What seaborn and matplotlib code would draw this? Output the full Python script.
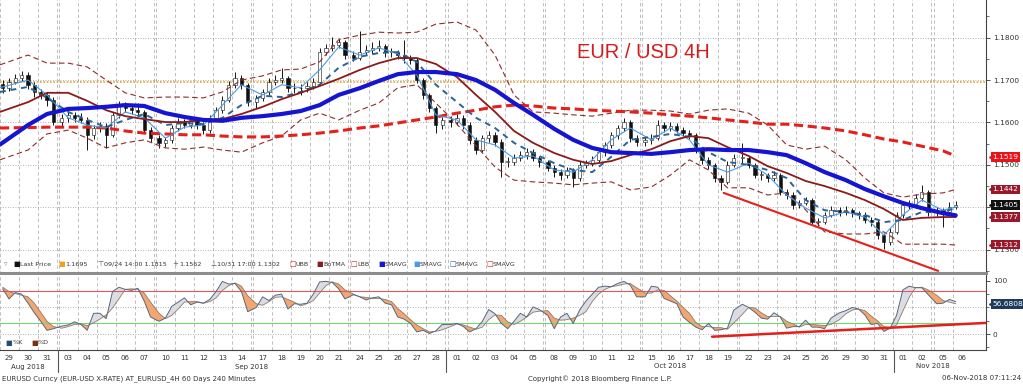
import numpy as np
import pandas as pd
import matplotlib
matplotlib.use("Agg")
import matplotlib.pyplot as plt
import matplotlib.transforms as mtransforms
from matplotlib.lines import Line2D
import seaborn as sns

# ---------------- data ----------------
trade_days = pd.bdate_range("2018-08-29", "2018-11-06")

# 3 bars per trading day (last day: 1 bar)
open_first = 1.1690
close = [1.1681, 1.1696, 1.1705, 1.1712, 1.1688, 1.1672, 1.1665, 1.1653, 1.1601,
         1.1611, 1.1618, 1.1611, 1.1606, 1.1570, 1.1587, 1.1592, 1.1570, 1.1618,
         1.1641, 1.1634, 1.1629, 1.1625, 1.1582, 1.1563, 1.1552, 1.1559, 1.1587,
         1.1601, 1.1594, 1.1606, 1.1594, 1.1582, 1.1611, 1.1629, 1.1653, 1.1688,
         1.1705, 1.1688, 1.1648, 1.1658, 1.1672, 1.1696, 1.1700, 1.1705, 1.1681,
         1.1681, 1.1681, 1.1686, 1.1696, 1.1766, 1.1776, 1.1783, 1.1790, 1.1759,
         1.1752, 1.1766, 1.1771, 1.1776, 1.1780, 1.1766, 1.1766, 1.1759, 1.1752,
         1.1747, 1.1700, 1.1665, 1.1634, 1.1594, 1.1606, 1.1601, 1.1611, 1.1594,
         1.1559, 1.1535, 1.1563, 1.1570, 1.1554, 1.1507, 1.1507, 1.1516, 1.1523,
         1.1530, 1.1516, 1.1507, 1.1493, 1.1483, 1.1476, 1.1488, 1.1469, 1.1500,
         1.1504, 1.1511, 1.1530, 1.1547, 1.1570, 1.1587, 1.1601, 1.1563, 1.1554,
         1.1559, 1.1563, 1.1594, 1.1587, 1.1592, 1.1582, 1.1575, 1.1570, 1.1535,
         1.1511, 1.1500, 1.1469, 1.1460, 1.1500, 1.1516, 1.1516, 1.1500, 1.1476,
         1.1476, 1.1469, 1.1476, 1.1436, 1.1429, 1.1405, 1.1410, 1.1417, 1.1365,
         1.1365, 1.1382, 1.1393, 1.1389, 1.1393, 1.1386, 1.1382, 1.1370, 1.1365,
         1.1334, 1.1318, 1.1342, 1.1382, 1.1405, 1.1405, 1.1422, 1.1436, 1.1389,
         1.1393, 1.1389, 1.1400, 1.1405]
high = [1.1700, 1.1705, 1.1715, 1.1722, 1.1718, 1.1695, 1.1680, 1.1672, 1.1660,
        1.1620, 1.1628, 1.1625, 1.1622, 1.1612, 1.1595, 1.1600, 1.1598, 1.1625,
        1.1650, 1.1648, 1.1642, 1.1645, 1.1630, 1.1590, 1.1570, 1.1566, 1.1595,
        1.1610, 1.1608, 1.1615, 1.1612, 1.1600, 1.1618, 1.1636, 1.1662, 1.1698,
        1.1719, 1.1712, 1.1692, 1.1665, 1.1680, 1.1705, 1.1712, 1.1728, 1.1710,
        1.1692, 1.1690, 1.1695, 1.1705, 1.1775, 1.1785, 1.1802, 1.1800, 1.1795,
        1.1768, 1.1815, 1.1782, 1.1790, 1.1795, 1.1785, 1.1775, 1.1772, 1.1795,
        1.1760, 1.1752, 1.1705, 1.1670, 1.1640, 1.1612, 1.1615, 1.1620, 1.1618,
        1.1600, 1.1565, 1.1570, 1.1580, 1.1578, 1.1560, 1.1518, 1.1525, 1.1532,
        1.1540, 1.1538, 1.1522, 1.1512, 1.1500, 1.1490, 1.1495, 1.1492, 1.1508,
        1.1512, 1.1520, 1.1538, 1.1555, 1.1578, 1.1595, 1.1610, 1.1605, 1.1570,
        1.1568, 1.1572, 1.1605, 1.1600, 1.1600, 1.1598, 1.1590, 1.1582, 1.1575,
        1.1540, 1.1518, 1.1505, 1.1475, 1.1508, 1.1525, 1.1552, 1.1522, 1.1505,
        1.1485, 1.1482, 1.1485, 1.1480, 1.1442, 1.1435, 1.1418, 1.1425, 1.1422,
        1.1375, 1.1390, 1.1402, 1.1400, 1.1402, 1.1398, 1.1392, 1.1388, 1.1378,
        1.1370, 1.1340, 1.1350, 1.1390, 1.1415, 1.1418, 1.1432, 1.1452, 1.1440,
        1.1400, 1.1398, 1.1412, 1.1415]
low = [1.1670, 1.1675, 1.1690, 1.1698, 1.1680, 1.1660, 1.1655, 1.1640, 1.1595,
       1.1592, 1.1600, 1.1600, 1.1598, 1.1535, 1.1560, 1.1578, 1.1540, 1.1565,
       1.1610, 1.1625, 1.1620, 1.1615, 1.1575, 1.1555, 1.1540, 1.1542, 1.1552,
       1.1580, 1.1586, 1.1588, 1.1585, 1.1572, 1.1576, 1.1605, 1.1622, 1.1648,
       1.1682, 1.1680, 1.1640, 1.1635, 1.1650, 1.1665, 1.1688, 1.1692, 1.1672,
       1.1670, 1.1665, 1.1672, 1.1680, 1.1690, 1.1758, 1.1768, 1.1775, 1.1750,
       1.1745, 1.1748, 1.1758, 1.1762, 1.1768, 1.1755, 1.1755, 1.1750, 1.1740,
       1.1738, 1.1692, 1.1655, 1.1625, 1.1575, 1.1585, 1.1590, 1.1595, 1.1585,
       1.1550, 1.1525, 1.1530, 1.1555, 1.1545, 1.1471, 1.1495, 1.1500, 1.1508,
       1.1515, 1.1508, 1.1495, 1.1485, 1.1472, 1.1465, 1.1470, 1.1448, 1.1462,
       1.1492, 1.1498, 1.1505, 1.1522, 1.1540, 1.1562, 1.1580, 1.1555, 1.1545,
       1.1545, 1.1550, 1.1558, 1.1578, 1.1580, 1.1575, 1.1568, 1.1560, 1.1528,
       1.1502, 1.1490, 1.1460, 1.1441, 1.1455, 1.1495, 1.1505, 1.1492, 1.1468,
       1.1465, 1.1460, 1.1462, 1.1428, 1.1420, 1.1396, 1.1398, 1.1405, 1.1358,
       1.1355, 1.1360, 1.1378, 1.1380, 1.1382, 1.1378, 1.1372, 1.1362, 1.1355,
       1.1325, 1.1302, 1.1310, 1.1338, 1.1375, 1.1395, 1.1398, 1.1415, 1.1380,
       1.1380, 1.1353, 1.1385, 1.1395]

# studies, one value per trading day
sma_slow = [1.1548, 1.1594, 1.1620, 1.1632, 1.1634, 1.1637, 1.1641, 1.1639, 1.1622, 1.1613,
            1.1606, 1.1604, 1.1611, 1.1615, 1.1620, 1.1627, 1.1641, 1.1665, 1.1681, 1.1698,
            1.1714, 1.1719, 1.1719, 1.1714, 1.1700, 1.1677, 1.1646, 1.1618, 1.1585, 1.1559,
            1.1540, 1.1530, 1.1528, 1.1526, 1.1530, 1.1535, 1.1537, 1.1535, 1.1535, 1.1530,
            1.1523, 1.1504, 1.1483, 1.1464, 1.1443, 1.1426, 1.1410, 1.1398, 1.1386, 1.1381]
sma_long = [1.1587, 1.1588, 1.1589, 1.1589, 1.1589, 1.1587, 1.1580, 1.1575, 1.1573, 1.1571,
            1.1571, 1.1568, 1.1566, 1.1566, 1.1568, 1.1571, 1.1575, 1.1580, 1.1587, 1.1592,
            1.1599, 1.1606, 1.1613, 1.1622, 1.1629, 1.1637, 1.1641, 1.1639, 1.1634, 1.1632,
            1.1629, 1.1627, 1.1625, 1.1622, 1.1618, 1.1615, 1.1611, 1.1606, 1.1601, 1.1596,
            1.1596, 1.1592, 1.1587, 1.1580, 1.1571, 1.1561, 1.1554, 1.1544, 1.1533, 1.1521]
bol_mid = [1.1625, 1.1648, 1.1670, 1.1670, 1.1651, 1.1629, 1.1615, 1.1608, 1.1601, 1.1601,
           1.1606, 1.1608, 1.1620, 1.1637, 1.1655, 1.1670, 1.1686, 1.1703, 1.1724, 1.1740,
           1.1752, 1.1752, 1.1738, 1.1707, 1.1665, 1.1625, 1.1580, 1.1552, 1.1528, 1.1512,
           1.1502, 1.1509, 1.1523, 1.1537, 1.1556, 1.1568, 1.1563, 1.1542, 1.1521, 1.1497,
           1.1481, 1.1462, 1.1450, 1.1434, 1.1417, 1.1396, 1.1370, 1.1375, 1.1377, 1.1377]
bol_up = [1.1736, 1.1759, 1.1740, 1.1740, 1.1731, 1.1700, 1.1670, 1.1658, 1.1660, 1.1660,
          1.1658, 1.1672, 1.1700, 1.1710, 1.1724, 1.1726, 1.1743, 1.1795, 1.1806, 1.1813,
          1.1811, 1.1813, 1.1832, 1.1837, 1.1818, 1.1759, 1.1665, 1.1625, 1.1622, 1.1618,
          1.1615, 1.1622, 1.1629, 1.1629, 1.1627, 1.1620, 1.1629, 1.1632, 1.1622, 1.1594,
          1.1547, 1.1537, 1.1544, 1.1512, 1.1469, 1.1434, 1.1424, 1.1431, 1.1434, 1.1442]
bol_low = [1.1512, 1.1535, 1.1573, 1.1582, 1.1563, 1.1540, 1.1552, 1.1559, 1.1540, 1.1537,
           1.1542, 1.1535, 1.1530, 1.1552, 1.1568, 1.1606, 1.1622, 1.1606, 1.1629, 1.1646,
           1.1682, 1.1689, 1.1646, 1.1596, 1.1545, 1.1495, 1.1464, 1.1460, 1.1457, 1.1453,
           1.1457, 1.1460, 1.1441, 1.1448, 1.1476, 1.1512, 1.1488, 1.1446, 1.1446, 1.1429,
           1.1434, 1.1394, 1.1342, 1.1337, 1.1337, 1.1342, 1.1313, 1.1313, 1.1313, 1.1311]
sma_mid = [1.1672, 1.1684, 1.1658, 1.1625, 1.1606, 1.1589, 1.1606, 1.1620, 1.1594, 1.1599,
           1.1596, 1.1611, 1.1641, 1.1663, 1.1660, 1.1672, 1.1689, 1.1729, 1.1755, 1.1764,
           1.1766, 1.1743, 1.1689, 1.1648, 1.1611, 1.1587, 1.1552, 1.1528, 1.1504, 1.1488,
           1.1483, 1.1519, 1.1559, 1.1566, 1.1573, 1.1566, 1.1530, 1.1507, 1.1500, 1.1488,
           1.1469, 1.1417, 1.1393, 1.1389, 1.1382, 1.1365, 1.1370, 1.1389, 1.1389, 1.1398]
sma_fast = [1.1682, 1.1700, 1.1665, 1.1611, 1.1594, 1.1587, 1.1625, 1.1611, 1.1563, 1.1589,
            1.1594, 1.1641, 1.1689, 1.1665, 1.1689, 1.1682, 1.1724, 1.1778, 1.1759, 1.1776,
            1.1762, 1.1712, 1.1618, 1.1606, 1.1559, 1.1547, 1.1516, 1.1521, 1.1488, 1.1483,
            1.1512, 1.1559, 1.1587, 1.1559, 1.1587, 1.1559, 1.1500, 1.1483, 1.1504, 1.1476,
            1.1429, 1.1398, 1.1375, 1.1389, 1.1377, 1.1334, 1.1382, 1.1417, 1.1393, 1.1401]

# stochastic, one value per bar
stoch_k = [85, 66, 78, 75, 58, 40, 24, 7, 10, 15, 17, 23, 18, 7, 39, 39, 29, 80,
           88, 84, 82, 86, 62, 32, 24, 30, 52, 60, 68, 55, 60, 58, 65, 80, 99, 94,
           95, 80, 42, 50, 70, 63, 73, 75, 47, 57, 56, 58, 75, 98, 99, 97, 85, 66,
           74, 70, 64, 68, 70, 58, 55, 32, 28, 20, 4, 7, 1, 6, 18, 18, 20, 14,
           4, 10, 24, 46, 38, 20, 10, 24, 39, 32, 51, 46, 35, 10, 32, 39, 20, 45,
           62, 75, 88, 90, 89, 95, 99, 92, 70, 70, 90, 88, 67, 62, 57, 32, 22, 13,
           8, 20, 7, 8, 11, 45, 56, 50, 41, 30, 28, 40, 32, 11, 14, 14, 26, 13,
           13, 10, 30, 40, 44, 50, 47, 36, 18, 20, 5, 11, 35, 83, 90, 87, 87, 74,
           57, 58, 65, 61]
stoch_d = [88, 80, 76, 73, 70, 58, 41, 24, 14, 11, 14, 18, 19, 16, 21, 28, 36, 49,
           66, 84, 85, 84, 77, 60, 39, 29, 35, 47, 60, 61, 61, 58, 61, 68, 82, 91,
           96, 90, 72, 57, 54, 61, 69, 70, 65, 60, 53, 57, 63, 77, 91, 98, 94, 83,
           75, 70, 69, 67, 67, 65, 61, 48, 38, 27, 17, 10, 4, 5, 8, 14, 19, 17,
           13, 9, 13, 27, 36, 35, 23, 18, 24, 32, 41, 43, 44, 30, 26, 27, 30, 35,
           42, 61, 75, 84, 89, 91, 94, 95, 87, 77, 77, 83, 82, 72, 62, 50, 39, 22,
           14, 14, 12, 12, 9, 21, 37, 50, 49, 40, 33, 33, 33, 24, 19, 13, 18, 18,
           17, 16, 18, 27, 38, 45, 47, 44, 34, 25, 14, 12, 17, 43, 69, 87, 88, 83,
           73, 63, 60, 57]

level_1695 = 1.1695
tag_values = [1.1519, 1.1442, 1.1405, 1.1377, 1.1312]
stoch_last = 56.6808

# hand-drawn trend lines: trading-day index, shift within the day, value
trend_day = [37, 48]
trend_shift = [-0.2, -0.26]
trend_val = [1.1434, 1.1250]
stoch_trend_day = [36, 49]
stoch_trend_shift = [0.19, 1.3]
stoch_trend_val = [-5, 21]

# ---------------- layout helpers ----------------
gap = 0.116   # weekend squeeze
pos, w = [], 0
for k, d in enumerate(trade_days):
    if k and (d - trade_days[k - 1]).days > 1:
        w += 1
    pos.append(k + gap * w)
pos = np.array(pos)
bar_x = np.array([p + (j - 1) / 3 for p in pos for j in range(3)])[:len(close)]
x_left, x_right = -0.474, 51.42
ma_x = pos.copy()
ma_x[0] = x_left
ma_x[-1] = bar_x[-1]

sns.set_style("white")
plt.rcParams["font.family"] = ["DejaVu Sans"]

W, H = 1023, 384
fig = plt.figure(figsize=(W / 100, H / 100), dpi=100)
ax = fig.add_axes([0, 1 - 273 / H, 986 / W, 273 / H])
ax2 = fig.add_axes([0, 1 - 350 / H, 986 / W, 75 / H])

# grid
bounds = np.unique(np.round(np.r_[pos - 0.5, pos + 0.5], 4))
bounds = bounds[bounds < bar_x[-1] + 0.5]
for a in (ax, ax2):
    a.vlines(bounds, -1e3, 1e3, color="#b4b4b4", lw=0.6, linestyle=(0, (4, 3)), zorder=1)
for v in [1.13, 1.14, 1.15, 1.16, 1.17, 1.18]:
    ax.axhline(v, color="#9a9a9a", lw=0.6, linestyle=(0, (1, 2)), zorder=1)
ax.axhline(level_1695, color="#e3a52e", lw=1.2, linestyle=(0, (1, 1)), zorder=2)

# candles
c = np.array(close)
o = np.r_[open_first, c[:-1]]
up = c >= o
ax.vlines(bar_x, low, high, color="#151515", lw=0.7, zorder=3)
ax.bar(bar_x, np.maximum(np.abs(c - o), 0.00015), bottom=np.minimum(o, c), width=0.17,
       color=np.where(up, "white", "#111111"), edgecolor="#111111", linewidth=0.4, zorder=3)

# studies
sns.lineplot(x=ma_x, y=bol_up, ax=ax, color="#8e2b2b", lw=0.8, linestyle=(0, (5, 3)), zorder=4)
sns.lineplot(x=ma_x, y=bol_low, ax=ax, color="#8e2b2b", lw=0.8, linestyle=(0, (5, 3)), zorder=4)
sns.lineplot(x=ma_x, y=sma_long, ax=ax, color="#e3201b", lw=2.2, linestyle=(0, (3, 1.5)), zorder=5)
sns.lineplot(x=ma_x, y=sma_fast, ax=ax, color="#4a9be3", lw=0.8, zorder=5)
sns.lineplot(x=ma_x, y=sma_mid, ax=ax, color="#2a6496", lw=1.4, linestyle=(0, (3, 2.5)), zorder=5)
sns.lineplot(x=ma_x, y=bol_mid, ax=ax, color="#8b1a1a", lw=1.3, zorder=6)
sns.lineplot(x=ma_x, y=sma_slow, ax=ax, color="#1414d2", lw=3.0, zorder=7)
tx = [pos[d] + s for d, s in zip(trend_day, trend_shift)]
ax.plot(tx, trend_val, color="#e3201b", lw=1.5, zorder=8)

ax.set_xlim(x_left, x_right)
ax.set_ylim(1.1245, 1.18889)
ax.set_xticks([])
ax.yaxis.tick_right()
ax.set_yticks([1.13, 1.14, 1.15, 1.16, 1.17, 1.18])
# 1.1400 sits under the last-price tag, as in the reference
ax.set_yticklabels(["1.1300", "", "1.1500", "1.1600", "1.1700", "1.1800"])
ax.set_yticks(np.arange(1.125, 1.19, 0.005), minor=True)
ax.tick_params(axis="y", which="major", right=True, length=3, width=0.6, pad=2,
               labelsize=5.3, colors="#333333")
ax.tick_params(axis="y", which="minor", right=True, length=2, width=0.5, colors="#333333")
for s in ["left", "top"]:
    ax.spines[s].set_visible(False)
ax.spines["right"].set_color("#444444")
ax.spines["right"].set_linewidth(0.8)
ax.spines["bottom"].set_color("#8c8c8c")
ax.spines["bottom"].set_linewidth(2.2)
ax.set_xlabel("")
ax.set_ylabel("")

fig.text(643 / W, 1 - 52 / H, "EUR / USD 4H", ha="center", va="center", fontsize=14.5,
         family=["Liberation Sans"], color="#d41c1c")

# price tags on the right
tag_colors = ["#e8131b", "#98182c", "#111111", "#98182c", "#98182c"]
ytr = ax.get_yaxis_transform()
for v, col in zip(tag_values, tag_colors):
    ax.plot([1.006], [v], marker="<", ms=4.2, color=col, transform=ytr, clip_on=False, zorder=10)
    ax.annotate(f"{v:.4f}", xy=(1.0, v), xycoords=ytr, xytext=(4.6, 0), textcoords="offset points",
                va="center", ha="left", fontsize=5.4, color="white", zorder=10,
                annotation_clip=False,
                bbox=dict(boxstyle="square,pad=0.25", fc=col, ec="none"))

# legend strip
leg = [(4, "▿", "#888888", ""), (13, "■", "#111111", "Last Price"), (58, "■", "#f0a020", "1.1695"),
       (97, "⊤", "#555555", "09/24 14:00 1.1815"), (172, "+", "#555555", "1.1562"),
       (210, "⊥", "#555555", "10/31 17:00 1.1302"), (289, "□", "#d03030", "UBB"),
       (316, "■", "#8b1a1a", "BoTMA"), (350, "□", "#d03030", "LBB"), (378, "■", "#1414d2", "SMAVG"),
       (413, "■", "#4a9be3", "SMAVG"), (449, "□", "#2a6496", "SMAVG"), (486, "□", "#e3201b", "SMAVG")]
for px, sym, col, lab in leg:
    fig.text(px / W, 1 - 264 / H, sym, color=col, fontsize=5, va="center", ha="left")
    if lab:
        fig.text((px + 7) / W, 1 - 264 / H, lab, color="#333333", fontsize=4.6, va="center", ha="left")

# stochastic panel
kk = np.array(stoch_k, dtype=float)
dd = np.array(stoch_d, dtype=float)
ax2.fill_between(bar_x, kk, dd, where=kk >= dd, interpolate=True, color="#dcdce4", lw=0, zorder=2)
ax2.fill_between(bar_x, kk, dd, where=kk < dd, interpolate=True, color="#f4a672", lw=0, zorder=2)
sns.lineplot(x=bar_x, y=dd, ax=ax2, color="#8c7a6a", lw=0.6, zorder=3)
sns.lineplot(x=bar_x, y=kk, ax=ax2, color="#56687c", lw=0.7, zorder=3)
ax2.axhline(80, color="#e05a5a", lw=0.8, zorder=2)
ax2.axhline(20, color="#74d474", lw=0.8, zorder=2)
for v in [0, 50]:
    ax2.axhline(v, color="#9a9a9a", lw=0.6, linestyle=(0, (1, 2)), zorder=1)
sx = [pos[d] + s for d, s in zip(stoch_trend_day, stoch_trend_shift)]
ax2.plot(sx, stoch_trend_val, color="#e3201b", lw=1.8, zorder=4)

ax2.set_xlim(x_left, x_right)
ax2.set_ylim(-30, 111)
ax2.yaxis.tick_right()
ax2.set_yticks([0, 100])
ax2.set_yticklabels(["0", "100"])
ax2.set_yticks([-25, 25, 50, 75], minor=True)
ax2.tick_params(axis="y", which="major", right=True, length=3, width=0.6, pad=2,
                labelsize=5.3, colors="#333333")
ax2.tick_params(axis="y", which="minor", right=True, length=2, width=0.5, colors="#333333")
ax2.set_xticks(pos)
ax2.set_xticklabels(trade_days.strftime("%d"))
ax2.tick_params(axis="x", length=0, pad=3.5, labelsize=5, colors="#333333")
ax2.spines["left"].set_visible(False)
ax2.spines["top"].set_visible(False)
for s in ["right", "bottom"]:
    ax2.spines[s].set_color("#444444")
    ax2.spines[s].set_linewidth(0.8)
ax2.set_xlabel("")
ax2.set_ylabel("")

ytr2 = ax2.get_yaxis_transform()
ax2.plot([1.006], [stoch_last], marker="<", ms=4.2, color="#1f3a5c", transform=ytr2, clip_on=False, zorder=10)
ax2.annotate(f"{stoch_last:.4f}", xy=(1.0, stoch_last), xycoords=ytr2, xytext=(4.6, 0),
             textcoords="offset points", va="center", ha="left", fontsize=5.4, color="white",
             annotation_clip=False, zorder=10, bbox=dict(boxstyle="square,pad=0.25", fc="#1f3a5c", ec="none"))

fig.text(5 / W, 1 - 343 / H, "■", color="#1f4e79", fontsize=5, va="center")
fig.text(13 / W, 1 - 343 / H, "%K", color="#333333", fontsize=4.6, va="center")
fig.text(31 / W, 1 - 343 / H, "■", color="#7a3010", fontsize=5, va="center")
fig.text(38 / W, 1 - 343 / H, "%D", color="#333333", fontsize=4.6, va="center")

# month labels and separators
bt = mtransforms.blended_transform_factory(ax2.transData, fig.transFigure)
months = trade_days.to_period("M")
for m in months.unique():
    sel = pos[months == m]
    fig.text(0, 0, m.strftime("%b %Y"), transform=bt, fontsize=5, color="#333333",
             ha="center", va="center").set_position((sel.mean(), 1 - 366.5 / H))
    if sel[-1] < pos[-1]:
        xs = sel[-1] + 0.5 + gap / 2
        fig.add_artist(Line2D([xs, xs], [1 - 350 / H, 1 - 372 / H], transform=bt,
                              color="#555555", lw=0.8))

# footer
fy = 1 - 378.5 / H
fig.text(2 / W, fy, "EURUSD Curncy (EUR-USD X-RATE) AT_EURUSD_4H 60 Days 240 Minutes",
         fontsize=5, color="#333333", va="center", ha="left")
fig.text(528 / W, fy, "Copyright© 2018 Bloomberg Finance L.P.", fontsize=5, color="#333333",
         va="center", ha="left")
fig.text(1021 / W, fy, "06-Nov-2018 07:11:24", fontsize=5, color="#333333", va="center", ha="right")

fig.savefig("out.png", dpi=100, facecolor="white")
